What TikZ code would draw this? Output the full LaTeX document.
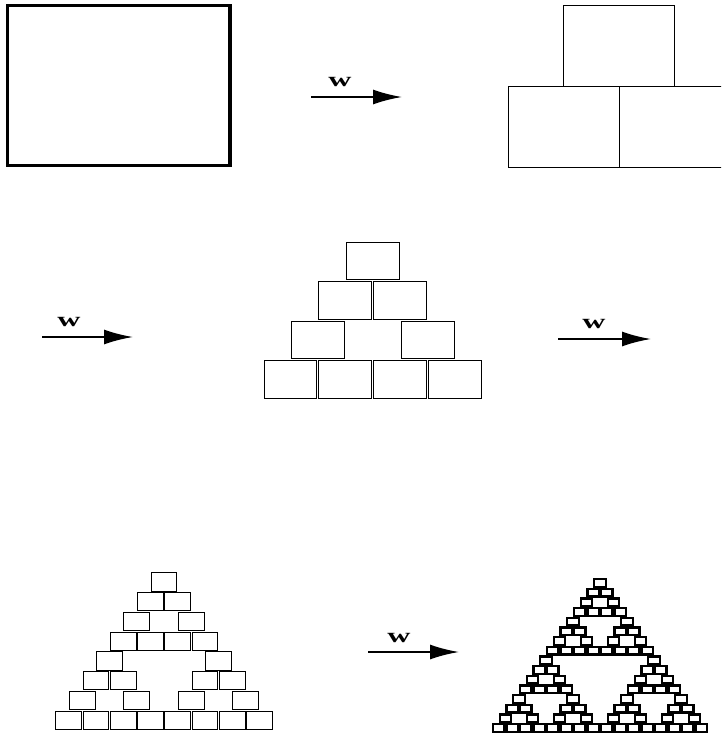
\documentclass[tikz,border=0pt]{standalone}
\usepackage{fontspec}
\setmainfont{Liberation Serif}
\usetikzlibrary{arrows.meta}
\tikzset{
  box/.style={draw=black, line width=0.9pt},
  bigbox/.style={draw=black, line width=3.8pt},
  heavybox/.style={draw=black, line width=2.3pt},
  maparrow/.style={line width=2pt, -{Latex[length=29pt,width=15pt]}},
  wlabel/.style={font=\bfseries\fontsize{20}{20}\selectfont, xscale=1.6, inner sep=0pt},
}
% #1 x0, #2 y0, #3 width, #4 height, #5 rows, #6 style, #7 inset
\newcommand\sierpinskipanel[7]{%
  \pgfmathsetmacro\sierpcw{#3/#5}%
  \pgfmathsetmacro\sierpch{#4/#5}%
  \pgfmathtruncatemacro\sierplast{#5-1}%
  \foreach \i in {0,...,\sierplast}{%
    \foreach \j in {0,...,\i}{%
      \pgfmathtruncatemacro\sierpnotodd{(mod(\j,2)>mod(\i,2)) + (mod(floor(\j/2),2)>mod(floor(\i/2),2)) + (mod(floor(\j/4),2)>mod(floor(\i/4),2)) + (mod(floor(\j/8),2)>mod(floor(\i/8),2))}%
      \ifnum\sierpnotodd=0
        \pgfmathsetmacro\sierpxa{#1+(\sierplast-\i)*\sierpcw/2+\j*\sierpcw+#7}%
        \pgfmathsetmacro\sierpya{#2+\i*\sierpch+#7}%
        \pgfmathsetmacro\sierpxb{\sierpxa+\sierpcw-2*#7}%
        \pgfmathsetmacro\sierpyb{\sierpya+\sierpch-2*#7}%
        \draw[#6] (\sierpxa,\sierpya) rectangle (\sierpxb,\sierpyb);
      \fi
    }%
  }%
}
\begin{document}
\begin{tikzpicture}[x=1pt,y=-1pt]
  \useasboundingbox (0,0) rectangle (721,737);
  \clip (0,0) rectangle (721,737);
  % panel 1
  \draw[bigbox] (7.5,5.5) rectangle (230,165.5);
  % panel 2
  \sierpinskipanel{508}{5.5}{222}{161.5}{2}{box}{0}
  % panel 3
  \sierpinskipanel{263}{241}{219.5}{158}{4}{box}{1}
  % panel 4
  \sierpinskipanel{55}{572}{218}{158}{8}{box}{0.8}
  % panel 5
  \sierpinskipanel{492}{578}{216}{155}{16}{heavybox}{1.0}
  % arrows
  \coordinate (a1s) at (311,97);  \coordinate (a1e) at (402,97);
  \coordinate (a2s) at (42,337);  \coordinate (a2e) at (133,337);
  \coordinate (a3s) at (558,339); \coordinate (a3e) at (651,339);
  \coordinate (a4s) at (368,652); \coordinate (a4e) at (459,652);
  \draw[maparrow] (a1s) -- (a1e);
  \draw[maparrow] (a2s) -- (a2e);
  \draw[maparrow] (a3s) -- (a3e);
  \draw[maparrow] (a4s) -- (a4e);
  \node[wlabel] (w1) at (340,82.5) {w};
  \node[wlabel] (w2) at (69,322.5) {w};
  \node[wlabel] (w3) at (594,324.5) {w};
  \node[wlabel] (w4) at (399,638) {w};
\end{tikzpicture}
\end{document}
